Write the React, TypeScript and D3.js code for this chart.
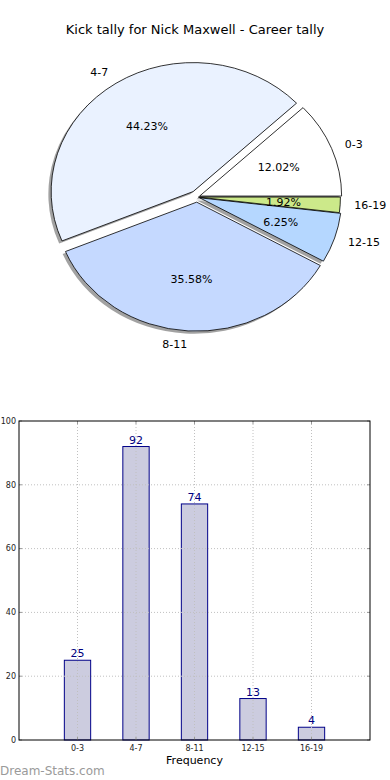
import React from 'react'
import * as d3 from 'd3'

const categories = ['0-3', '4-7', '8-11', '12-15', '16-19']
const kicks = [25, 92, 74, 13, 4]
const sliceColors = ['#ffffff', '#eaf2ff', '#c5d9ff', '#b5d7ff', '#cce98a']
const explode = [0.02, 0.05, 0.04, 0.02, 0.01]
const yTicks = [0, 20, 40, 60, 80, 100]

const font = '"DejaVu Sans", Verdana, sans-serif'

const PieChart = () => {
  const cx = 197
  const cy = 197
  const rx = 142
  const ry = 129
  const total = d3.sum(kicks)

  // matplotlib style: starts at 3 o'clock, goes counterclockwise
  const arcs = d3
    .pie<number>()
    .sort(null)
    .startAngle(Math.PI / 2)
    .endAngle(Math.PI / 2 - 2 * Math.PI)(kicks)

  const arc = d3.arc<any>().innerRadius(0).outerRadius(ry)
  const sx = rx / ry

  const wedges = arcs.map((a, i) => {
    const mid = (a.startAngle + a.endAngle) / 2
    const ox = Math.sin(mid) * explode[i] * rx
    const oy = -Math.cos(mid) * explode[i] * ry
    return { a, i, mid, x: cx + ox, y: cy + oy }
  })

  return (
    <g>
      {/* shadows */}
      {wedges.map((w) => (
        <path
          key={'s' + w.i}
          d={arc(w.a) as string}
          transform={`translate(${w.x - 2.8},${w.y + 2.6}) scale(${sx},1)`}
          fill="rgb(70,70,70)"
          fillOpacity={0.5}
          stroke="none"
        />
      ))}
      {wedges.map((w) => (
        <path
          key={'w' + w.i}
          d={arc(w.a) as string}
          transform={`translate(${w.x},${w.y}) scale(${sx},1)`}
          fill={sliceColors[w.i]}
          stroke="#000"
          strokeWidth={0.8}
          vectorEffect="non-scaling-stroke"
          strokeLinejoin="round"
        />
      ))}
      {wedges.map((w) => {
        const lx = w.x + 1.1 * rx * Math.sin(w.mid)
        const ly = w.y - 1.1 * ry * Math.cos(w.mid)
        return (
          <text
            key={'l' + w.i}
            x={lx}
            y={ly}
            dy="0.35em"
            textAnchor={lx > cx ? 'start' : 'end'}
            fontSize={11}
            fontFamily={font}
            fill="#000"
          >
            {categories[w.i]}
          </text>
        )
      })}
      {wedges.map((w) => (
        <text
          key={'p' + w.i}
          x={w.x + 0.6 * rx * Math.sin(w.mid)}
          y={w.y - 0.6 * ry * Math.cos(w.mid)}
          dy="0.35em"
          textAnchor="middle"
          fontSize={11}
          fontFamily={font}
          fill="#000"
        >
          {((kicks[w.i] / total) * 100).toFixed(2) + '%'}
        </text>
      ))}
    </g>
  )
}

const BarChart = () => {
  const left = 19
  const right = 370
  const top = 421
  const bottom = 740

  const x = d3.scaleLinear().domain([-1, categories.length]).range([left, right])
  const y = d3.scaleLinear().domain([0, 100]).range([bottom, top])
  const barW = x(0.45) - x(0)

  return (
    <g>
      {categories.map((c, i) => (
        <rect
          key={'b' + c}
          x={x(i) - barW / 2}
          y={y(kicks[i])}
          width={barW}
          height={y(0) - y(kicks[i])}
          fill="#ccccdf"
          stroke="#000088"
          strokeWidth={1}
        />
      ))}
      {/* grid */}
      {categories.map((c, i) => (
        <line
          key={'gx' + c}
          x1={x(i)}
          x2={x(i)}
          y1={top}
          y2={bottom}
          stroke="#c0c0c0"
          strokeWidth={1}
          strokeDasharray="1,2"
        />
      ))}
      {yTicks.slice(1, -1).map((t) => (
        <line
          key={'gy' + t}
          x1={left}
          x2={right}
          y1={y(t)}
          y2={y(t)}
          stroke="#c0c0c0"
          strokeWidth={1}
          strokeDasharray="1,2"
        />
      ))}
      {/* tick marks */}
      {categories.map((c, i) => (
        <g key={'tx' + c} stroke="#999" strokeWidth={1}>
          <line x1={x(i)} x2={x(i)} y1={bottom} y2={bottom - 3} />
          <line x1={x(i)} x2={x(i)} y1={top} y2={top + 3} />
        </g>
      ))}
      {yTicks.map((t) => (
        <g key={'ty' + t} stroke="#999" strokeWidth={1}>
          <line x1={left} x2={left + 3} y1={y(t)} y2={y(t)} />
          <line x1={right} x2={right - 3} y1={y(t)} y2={y(t)} />
        </g>
      ))}
      <rect
        x={left}
        y={top}
        width={right - left}
        height={bottom - top}
        fill="none"
        stroke="#000"
        strokeWidth={1}
      />
      {categories.map((c, i) => (
        <text
          key={'v' + c}
          x={x(i)}
          y={y(kicks[i]) - 3}
          textAnchor="middle"
          fontSize={11}
          fontFamily={font}
          fill="#000080"
        >
          {kicks[i]}
        </text>
      ))}
      {yTicks.map((t) => (
        <text
          key={'yl' + t}
          x={left - 3}
          y={y(t)}
          dy="0.35em"
          textAnchor="end"
          fontSize={8}
          fontFamily={font}
          fill="#222"
        >
          {t}
        </text>
      ))}
      {categories.map((c, i) => (
        <text
          key={'xl' + c}
          x={x(i)}
          y={bottom + 11}
          textAnchor="middle"
          fontSize={8}
          fontFamily={font}
          fill="#222"
        >
          {c}
        </text>
      ))}
      <text
        x={x(2)}
        y={bottom + 24}
        textAnchor="middle"
        fontSize={11}
        fontFamily={font}
        fill="#000"
      >
        Frequency
      </text>
    </g>
  )
}

const App = () => {
  return (
    <div style={{ position: 'absolute', left: 0, top: 0, width: 390, height: 780 }}>
      <svg width={390} height={780} style={{ display: 'block', background: '#fff' }}>
        <text
          x={195}
          y={34}
          textAnchor="middle"
          fontSize={13}
          fontFamily={font}
          fill="#000"
        >
          Kick tally for Nick Maxwell - Career tally
        </text>
        <PieChart />
        <BarChart />
        <text x={0} y={775} fontSize={12} fontFamily={font} fill="#9a9a9a">
          Dream-Stats.com
        </text>
      </svg>
    </div>
  )
}

export default App
